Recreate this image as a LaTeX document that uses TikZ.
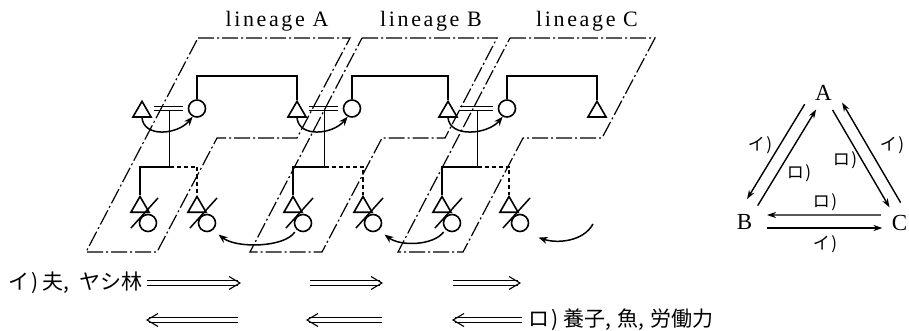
\documentclass[tikz,border=0pt]{standalone}
\usepackage{fontspec}
\setmainfont{Liberation Serif}
\newfontfamily\jp{Noto Sans CJK JP}
\usetikzlibrary{arrows.meta,calc,shapes.geometric}

\tikzset{
  male/.style={regular polygon, regular polygon sides=3, draw, line width=1.6pt,
               minimum size=21pt, inner sep=0pt},
  female/.style={circle, draw, line width=1.6pt, minimum size=17pt, inner sep=0pt},
  kin/.style={line width=1.5pt},
  kinx/.style={line width=1.5pt, dash pattern=on 4pt off 3pt},
  bound/.style={line width=1.2pt, dash pattern=on 16pt off 3pt on 2pt off 3pt},
  marry/.style={line width=1.3pt},
  slashmark/.style={line width=1.5pt},
  move/.style={line width=1.5pt, -{Stealth[length=9pt,width=7pt]}},
  flowln/.style={line width=1.1pt},
  rel/.style={line width=1.4pt, -{Stealth[length=9pt,width=6pt]}},
  lbl/.style={font=\fontsize{22}{24}\selectfont\addfontfeature{LetterSpace=12}},
  vtx/.style={font=\fontsize{23}{24}\selectfont, inner sep=1pt},
  jtxt/.style={font=\jp\fontsize{21}{24}\selectfont, inner sep=0pt, anchor=west},
  jsmall/.style={font=\jp\fontsize{17}{18}\selectfont, inner sep=0pt},
}

% double-shafted exchange arrow from #1 to #2; #3 is 1 (rightwards) or -1 (leftwards)
\newcommand\flowto[3]{%
  \draw[flowln] ($(#1)+(0,-2.2)$) -- ($(#2)+(-2*#3,-2.2)$)
                ($(#1)+(0,2.2)$) -- ($(#2)+(-2*#3,2.2)$);
  \draw[flowln] ($(#2)+(-11*#3,-6.5)$) -- (#2) -- ($(#2)+(-11*#3,6.5)$);}

% marriage sign between husband #1 and wife #2
\newcommand\wed[2]{%
  \draw[marry] ($(#1 |- #2)+(12,-2.3)$) -- ($(#2)+(-14,-2.3)$)
               ($(#1 |- #2)+(12,2.3)$) -- ($(#2)+(-14,2.3)$);}

\begin{document}
\begin{tikzpicture}[x=1pt, y=-1pt]
\useasboundingbox (0,0) rectangle (909,331);

% lineage labels
\node[lbl] (lA) at (277,21) {lineage\hspace{0.35em}A};
\node[lbl] (lB) at (431,21) {lineage\hspace{0.35em}B};
\node[lbl] (lC) at (587,21) {lineage\hspace{0.35em}C};

% upper generation
\node[male]   (tZ) at (142,111.8) {};
\node[female] (cA) at (197,108.5) {};
\node[male]   (tA) at (297,111.8) {};
\node[female] (cB) at (352,108.5) {};
\node[male]   (tB) at (448,111.8) {};
\node[female] (cC) at (507,108.5) {};
\node[male]   (tC) at (597,111.8) {};

% sister -- brother links
\draw[kin] (cA.north) -- ++(0,-23) -| (tA.north);
\draw[kin] (cB.north) -- ++(0,-23) -| (tB.north);
\draw[kin] (cC.north) -- ++(0,-23) -| (tC.north);

% marriages
\wed{tZ}{cA}
\wed{tA}{cB}
\wed{tB}{cC}
\coordinate (mA) at ($(tZ |- cA)!0.5!(cA)$);
\coordinate (mB) at ($(tA |- cB)!0.5!(cB)$);
\coordinate (mC) at ($(tB |- cC)!0.5!(cC)$);

% husband moves to wife
\draw[move] (tZ.south) .. controls +(2,20) and +(-15,18) .. (cA.-118);
\draw[move] (tA.south) .. controls +(2,20) and +(-15,18) .. (cB.-118);
\draw[move] (tB.south) .. controls +(2,20) and +(-15,18) .. (cC.-118);

% lower generation: sons and daughters
\node[male]   (a1t) at (140,207) {};
\node[female] (a1c) at (148,223) {};
\node[male]   (a2t) at (197,207) {};
\node[female] (a2c) at (207,223) {};
\node[male]   (b1t) at (293,207) {};
\node[female] (b1c) at (303,223) {};
\node[male]   (b2t) at (363,207) {};
\node[female] (b2c) at (373,223) {};
\node[male]   (c1t) at (442,207) {};
\node[female] (c1c) at (452,223) {};
\node[male]   (c2t) at (509,207) {};
\node[female] (c2c) at (520,223) {};

\foreach \c in {a1c,a2c,b1c,b2c,c1c,c2c}
  \draw[slashmark] ($(\c)+(-17,5)$) -- ($(\c)+(10,-25)$);

% descent lines
\draw[kin] ($(mA)+(0,2.3)$) -- ($(mA)+(0,58.5)$) coordinate (jA);
\draw[kin] ($(mB)+(0,2.3)$) -- ($(mB)+(0,58.5)$) coordinate (jB);
\draw[kin] ($(mC)+(0,2.3)$) -- ($(mC)+(0,58.5)$) coordinate (jC);
\draw[kin]  (jA) -| (a1t.north);
\draw[kinx] (jA) -| (a2t.north);
\draw[kin]  (jB) -| (b1t.north);
\draw[kinx] (jB) -| (b2t.north);
\draw[kin]  (jC) -| (c1t.north);
\draw[kinx] (jC) -| (c2t.north);

% daughters given in adoption
\draw[move, shorten <=3pt] (b1c.-135) .. controls +(-12,18) and +(18,14) .. ($(a2c.-45)+(5,5)$);
\draw[move, shorten <=3pt] (c1c.-135) .. controls +(-12,16) and +(16,12) .. ($(b2c.-45)+(5,5)$);
\coordinate (dIn) at (593,224);
\draw[move] (dIn) .. controls +(-10,18) and +(18,6) .. ($(c2c.-45)+(12,8)$);

% lineage boundaries
\draw[bound] (198,38) -- (350,38) -- (297,138) -- (217,138) -- (157,252) -- (86,252) -- cycle;
\draw[bound] (362,38) -- (497,38) -- (445,138) -- (382,138) -- (322,252) -- (250,252) -- cycle;
\draw[bound] (510,38) -- (655,38) -- (602,138) -- (523,138) -- (463,252) -- (398,252) -- cycle;

% exchanges
\node[jtxt] (giveR) at (8,283) {イ\hspace{0.12em})\hspace{0.2em}夫,\hspace{0.45em}ヤシ林};
\node[jtxt] (giveL) at (528,320) {ロ\hspace{0.12em})\hspace{0.2em}養子,\hspace{0.3em}魚,\hspace{0.3em}労働力};
\coordinate (r1a) at (147,283); \coordinate (r1b) at (240,283);
\coordinate (r2a) at (310,283); \coordinate (r2b) at (382,283);
\coordinate (r3a) at (453,283); \coordinate (r3b) at (520,283);
\coordinate (l1a) at (238,320); \coordinate (l1b) at (147,320);
\coordinate (l2a) at (382,320); \coordinate (l2b) at (307,320);
\coordinate (l3a) at (522,320); \coordinate (l3b) at (453,320);
\flowto{r1a}{r1b}{1}
\flowto{r2a}{r2b}{1}
\flowto{r3a}{r3b}{1}
\flowto{l1a}{l1b}{-1}
\flowto{l2a}{l2b}{-1}
\flowto{l3a}{l3b}{-1}

% circulation between the three lineages
\node[vtx] (A) at (823.5,92.5) {A};
\node[vtx] (B) at (744.5,222.5) {B};
\node[vtx] (C) at (899.5,222.5) {C};
\draw[rel] ($(A)!0.13!(B)!10pt!-90:(B)$) -- ($(A)!0.86!(B)!10pt!-90:(B)$);
\draw[rel] ($(A)!0.86!(B)!2.5pt!90:(B)$) -- ($(A)!0.12!(B)!2.5pt!90:(B)$);
\draw[rel] ($(A)!0.13!(C)!1pt!-90:(C)$) -- ($(A)!0.88!(C)!1pt!-90:(C)$);
\draw[rel] ($(A)!0.89!(C)!11pt!90:(C)$) -- ($(A)!0.12!(C)!11pt!90:(C)$);
\draw[rel] ($(B)!0.88!(C)!7.5pt!90:(C)$) -- ($(B)!0.145!(C)!7.5pt!90:(C)$);
\draw[rel] ($(B)!0.145!(C)!5.5pt!-90:(C)$) -- ($(B)!0.89!(C)!5.5pt!-90:(C)$);
\node[jsmall] (k1) at (760,145) {イ\hspace{0.1em})};
\node[jsmall] (k2) at (799,173) {ロ\hspace{0.1em})};
\node[jsmall] (k3) at (845,160) {ロ\hspace{0.1em})};
\node[jsmall] (k4) at (892,145) {イ\hspace{0.1em})};
\node[jsmall] (k5) at (825,202) {ロ\hspace{0.1em})};
\node[jsmall] (k6) at (825,244) {イ\hspace{0.1em})};
\end{tikzpicture}
\end{document}
